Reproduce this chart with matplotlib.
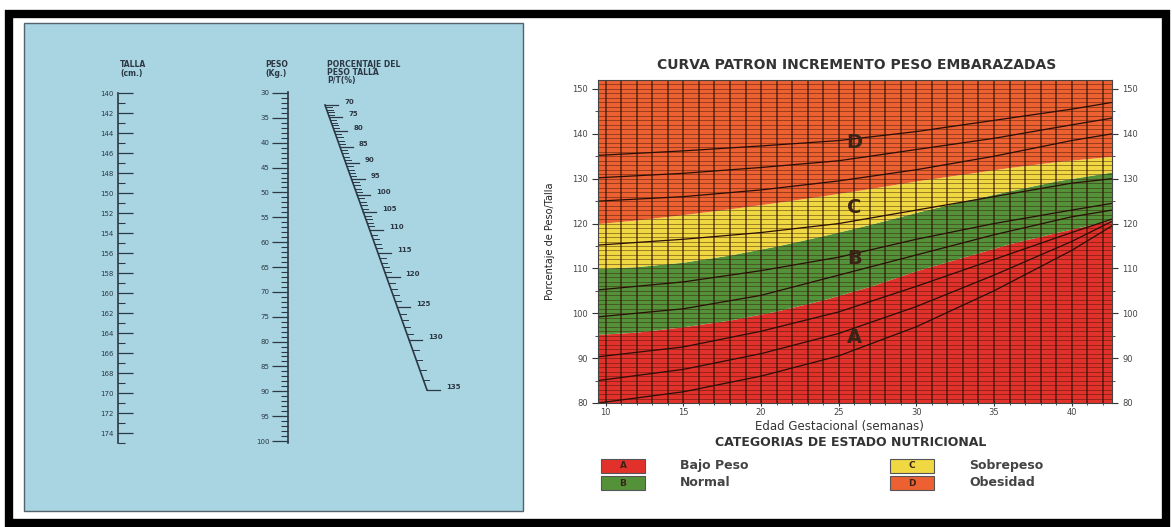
import numpy as np
import matplotlib.pyplot as plt
from matplotlib.patches import Rectangle

plt.rcParams['font.family'] = 'DejaVu Sans'

# ---- nomogram scales (left panel) ----
talla_ticks = list(range(140, 176))            # cm
talla_labels = list(range(140, 175, 2))
peso_ticks = list(range(30, 101))              # kg
peso_labels = list(range(30, 101, 5))
ptt_labels = [70, 75, 80, 85, 90, 95, 100, 105, 110, 115, 120, 125, 130, 135]
# calibration of the slanted P/T scale (fraction of its length)
ptt_scale_frac = [0.0, 0.042, 0.091, 0.147, 0.204, 0.260, 0.316, 0.375,
                  0.439, 0.519, 0.604, 0.709, 0.825, 1.0]

# ---- pregnancy weight gain chart (right panel) ----
band_weeks = [9.5, 12, 15, 18, 21, 24, 27, 30, 33, 36, 39, 42.6]
limit_ab = [95.3, 95.8, 97.0, 98.5, 100.5, 103.0, 106.0, 109.5, 112.5, 115.5, 118.0, 120.8]
limit_bc = [110.0, 110.4, 111.4, 113.0, 115.0, 117.3, 119.8, 122.5, 125.0, 127.3, 129.5, 131.5]
limit_cd = [120.0, 120.8, 122.0, 123.3, 124.7, 126.2, 127.8, 129.5, 131.0, 132.5, 133.8, 135.0]

curve_weeks = [9.5, 15, 20, 25, 30, 35, 40, 42.6]
c80 = [80.0, 82.5, 86.0, 90.5, 97.0, 105.0, 114.0, 119.5]
c85 = [85.0, 87.5, 91.0, 95.5, 101.5, 108.5, 116.0, 120.5]
c90 = [90.3, 92.5, 96.0, 100.3, 106.0, 112.0, 118.0, 121.0]
c99 = [99.2, 101.0, 104.0, 108.5, 113.0, 117.5, 121.5, 123.0]
c105 = [105.2, 107.0, 109.5, 112.5, 116.5, 120.0, 123.0, 124.5]
c115 = [115.2, 116.5, 118.0, 120.0, 123.0, 126.0, 129.0, 130.0]
c125 = [125.0, 126.0, 127.5, 129.5, 132.0, 135.0, 138.5, 140.0]
c130 = [130.2, 131.2, 132.5, 134.0, 136.5, 139.0, 142.0, 143.5]
c135 = [135.2, 136.2, 137.3, 138.5, 140.5, 143.0, 145.5, 147.0]
curves = [c80, c85, c90, c99, c105, c115, c125, c130, c135]

cat_letters = ['A', 'B', 'C', 'D']
cat_names = ['Bajo Peso', 'Normal', 'Sobrepeso', 'Obesidad']
cat_colors = ['#e2302a', '#54923a', '#f0d843', '#ec6032']
band_letter_week = 26
band_letter_val = [94.5, 112.3, 123.5, 138.0]

W, H = 1172, 527
fig = plt.figure(figsize=(W / 100, H / 100), dpi=100)


def rect(x, y, w, h):
    return [x / W, 1 - (y + h) / H, w / W, h / H]


# background layer in pixel coordinates
bg = fig.add_axes([0, 0, 1, 1])
bg.set_xlim(0, W)
bg.set_ylim(H, 0)
bg.axis('off')
bg.add_patch(Rectangle((9, 14), 1157, 509, fill=False, ec='black', lw=6))
bg.add_patch(Rectangle((24, 23), 499, 488, fc='#a9d4e1', ec='#55626c', lw=1))

ink = '#2c3845'
small = dict(color=ink, fontsize=5.5, fontweight='bold')
bg.text(120, 67, 'TALLA', **small)
bg.text(120, 76, '(cm.)', **small)
bg.text(265, 67, 'PESO', **small)
bg.text(265, 76, '(Kg.)', **small)
bg.text(327, 67, 'PORCENTAJE DEL', **small)
bg.text(327, 75, 'PESO TALLA', **small)
bg.text(327, 83, 'P/T(%)', **small)

# TALLA scale
ax_t = fig.add_axes(rect(118, 93, 30, 350))
ax_t.set_ylim(175, 140)
ax_t.patch.set_visible(False)
for s in ['top', 'right', 'bottom']:
    ax_t.spines[s].set_visible(False)
ax_t.spines['left'].set_color(ink)
ax_t.spines['left'].set_linewidth(1.2)
ax_t.set_xticks([])
ax_t.set_yticks(talla_labels)
ax_t.set_yticks([t for t in talla_ticks if t not in talla_labels], minor=True)
ax_t.tick_params(axis='y', which='major', direction='in', length=10.5, width=0.9,
                 color=ink, labelsize=5, labelcolor=ink, pad=3)
ax_t.tick_params(axis='y', which='minor', direction='in', length=5, width=0.8, color=ink)

# PESO scale
ax_p = fig.add_axes(rect(288, 92, 30, 351))
ax_p.set_ylim(100.4, 29.8)
ax_p.patch.set_visible(False)
for s in ['top', 'right', 'bottom']:
    ax_p.spines[s].set_visible(False)
ax_p.spines['left'].set_color(ink)
ax_p.spines['left'].set_linewidth(1.2)
ax_p.set_xticks([])
ax_p.set_yticks(peso_labels)
ax_p.set_yticks([p for p in peso_ticks if p not in peso_labels], minor=True)
ax_p.tick_params(axis='y', which='major', direction='out', length=11.5, width=0.9,
                 color=ink, labelsize=5, labelcolor=ink, pad=2)
ax_p.tick_params(axis='y', which='minor', direction='out', length=5, width=0.8, color=ink)

# slanted P/T scale
x0, y0, x1, y1 = 325, 105, 427, 390
bg.plot([x0, x1], [y0, y1], color=ink, lw=1.2)
for v in range(ptt_labels[0], ptt_labels[-1] + 1):
    f = np.interp(v, ptt_labels, ptt_scale_frac)
    tx, ty = x0 + f * (x1 - x0), y0 + f * (y1 - y0)
    major = v in ptt_labels
    bg.plot([tx, tx + (13 if major else 6)], [ty, ty], color=ink, lw=0.9 if major else 0.7)
    if major:
        bg.text(tx + 19, ty - 3, str(v), ha='left', va='center', color=ink,
                fontsize=5, fontweight='bold')

# ---- chart ----
ax = fig.add_axes(rect(598, 80, 514, 323))
ax.set_xlim(9.5, 42.6)
ax.set_ylim(80, 152)
ax.fill_between(band_weeks, 80, limit_ab, color=cat_colors[0], lw=0)
ax.fill_between(band_weeks, limit_ab, limit_bc, color=cat_colors[1], lw=0)
ax.fill_between(band_weeks, limit_bc, limit_cd, color=cat_colors[2], lw=0)
ax.fill_between(band_weeks, limit_cd, 152, color=cat_colors[3], lw=0)
ax.hlines(np.arange(81, 152), 9.5, 42.6, color='#3a1808', lw=0.6, alpha=0.55)
ax.vlines(np.arange(10, 43), 80, 152, color='#2a1005', lw=1.1, alpha=0.75)
for c in curves:
    ax.plot(curve_weeks, c, color='#2a0e06', lw=0.9)
for letter, val in zip(cat_letters, band_letter_val):
    ax.text(band_letter_week, val, letter, ha='center', va='center', fontsize=14,
            fontweight='bold', color='#3a2418')

ax.set_xticks(range(10, 41, 5))
ax.set_xticks(range(10, 43), minor=True)
ax.set_yticks(range(80, 151, 10))
ax.set_yticks(range(85, 151, 10), minor=True)
ax.tick_params(which='both', labelsize=6, labelcolor='#444', color='#333',
               right=True, labelright=True)
ax.tick_params(which='major', length=4)
ax.tick_params(which='minor', length=2.5)
ax.tick_params(axis='x', which='both', direction='inout', pad=1.5)
for s in ax.spines.values():
    s.set_color('#444')
    s.set_linewidth(0.8)
ax.set_ylabel('Porcentaje de Peso/Talla', fontsize=7, color='#222', labelpad=12)
ax.set_xlabel('Edad Gestacional (semanas)', fontsize=8.5, color='#333')
ax.xaxis.set_label_coords(0.47, -0.053)

bg.text(857, 65, 'CURVA PATRON INCREMENTO PESO EMBARAZADAS', ha='center', va='center',
        fontsize=10, fontweight='bold', color='#333')
bg.text(851, 442, 'CATEGORIAS DE ESTADO NUTRICIONAL', ha='center', va='center',
        fontsize=9, fontweight='bold', color='#333')

# legend of the categories
for i, (letter, name, col) in enumerate(zip(cat_letters, cat_names, cat_colors)):
    bx = 601 if i < 2 else 890
    by = 459 + 17 * (i % 2)
    bg.add_patch(Rectangle((bx, by), 44, 14, fc=col, ec='#555', lw=0.8))
    bg.text(bx + 22, by + 7, letter, ha='center', va='center', fontsize=6.5,
            fontweight='bold', color='#3a2418')
    bg.text(bx + 79, by + 7, name, ha='left', va='center', fontsize=9,
            fontweight='bold', color='#444')

fig.savefig('out.png', dpi=100)
